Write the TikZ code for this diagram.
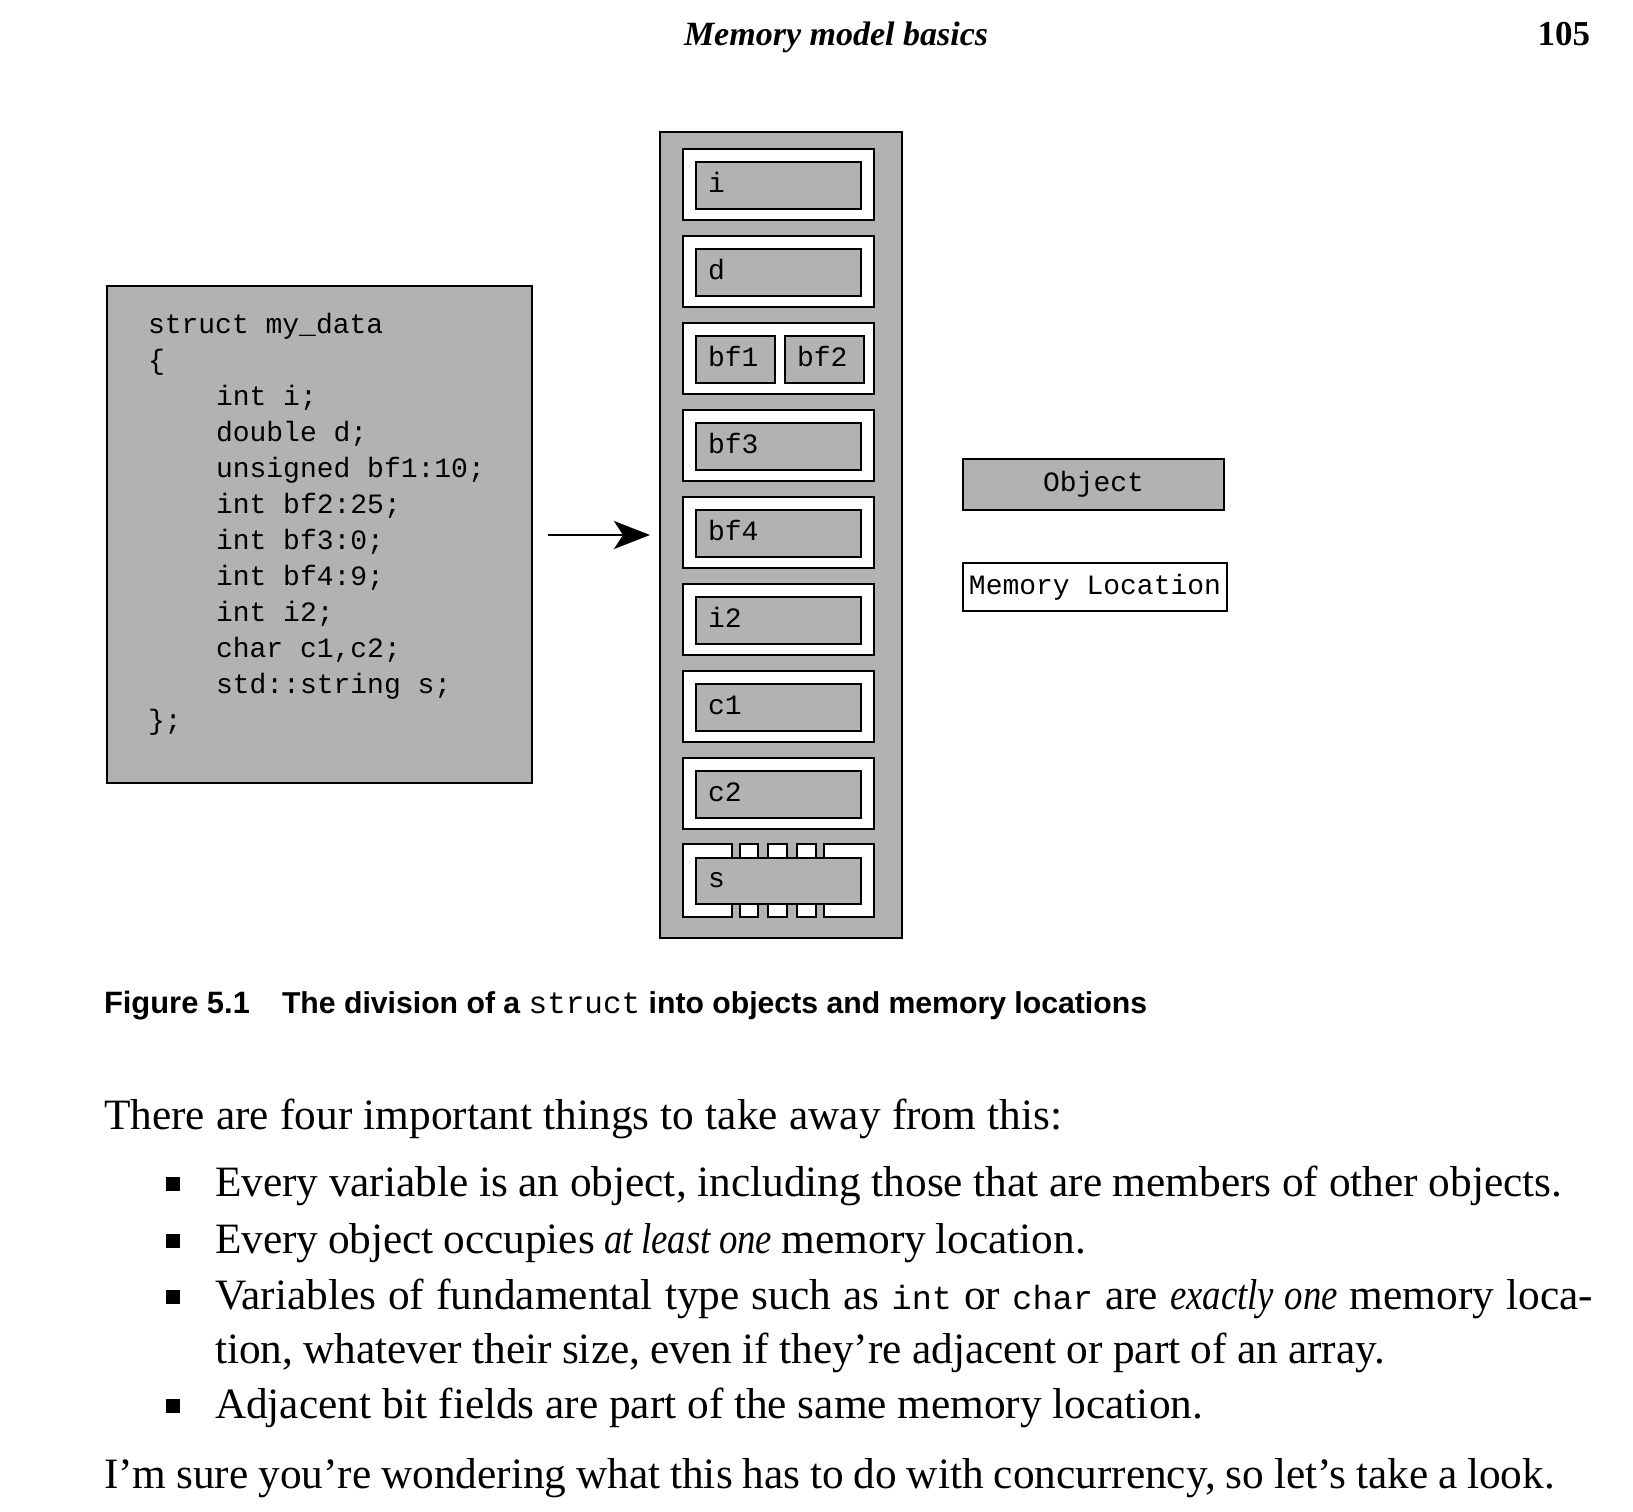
\documentclass[tikz,border=0pt]{standalone}
\usepackage{fontspec}
\setmainfont{Liberation Serif}[ItalicFeatures={FakeStretch=0.85}]
\setsansfont{Liberation Sans}
\setmonofont{Liberation Mono}
\usetikzlibrary{arrows.meta}
\definecolor{objgray}{gray}{0.7}
\newcommand{\monotxt}[1]{{\fontsize{33.5}{36}\selectfont\ttfamily\mdseries #1}}
\newcommand{\capmono}[1]{{\fontsize{31}{36}\selectfont\ttfamily\mdseries #1}}
\newcommand{\fitline}[2]{\hbox to #1pt{#2}}
\begin{document}
\begin{tikzpicture}[x=1pt,y=-1pt,
  every node/.style={inner sep=0pt, outer sep=0pt},
  codefont/.style={font=\fontsize{28}{36}\selectfont\ttfamily},
  column/.style={draw, line width=2.5pt, fill=objgray, anchor=north west, minimum width=242pt, minimum height=806pt},
  memloc/.style={draw, line width=2pt, fill=white, anchor=north west, minimum width=191pt, minimum height=71pt},
  piece/.style={draw, line width=2pt, fill=white},
  objbox/.style={draw, line width=1.5pt, fill=objgray, anchor=north west, minimum height=47pt,
     text width=141pt, inner xsep=12pt, align=left, text height=13pt, text depth=0pt, codefont},
  halfbox/.style={objbox, text width=55pt},
  codebox/.style={draw, line width=2pt, fill=objgray, anchor=north west, minimum width=425pt, minimum height=497pt},
  codeline/.style={codefont, anchor=base west},
  legendobj/.style={draw, line width=2pt, fill=objgray, anchor=north west, minimum width=261pt, minimum height=51pt, codefont},
  legendloc/.style={draw, line width=2pt, fill=white, anchor=north west, minimum width=264pt, minimum height=48pt, codefont},
  bodytext/.style={anchor=base west, font=\fontsize{43.3}{50}\selectfont},
  bulletsq/.style={fill=black, minimum width=14pt, minimum height=14pt, anchor=center},
  arrowline/.style={line width=2.5pt, -{Stealth[length=36pt, width=28pt, inset=9pt]}}
]
\useasboundingbox[fill=white] (0,0) rectangle (1633,1512);

% header
\node[anchor=base west, font=\fontsize{34}{40}\selectfont\bfseries\itshape] (hdr) at (684,46) {Memory model basics};
\node[anchor=base east, font=\fontsize{35}{40}\selectfont\bfseries] (pg) at (1590,46) {105};

% code box
\node[codebox] (code) at (107,286) {};
\node[codeline] (l1) at (148,333) {struct my\_data};
\node[codeline] (l2) at (148,369) {\{};
\node[codeline] (l3) at (216,405) {int i;};
\node[codeline] (l4) at (216,441) {double d;};
\node[codeline] (l5) at (216,477) {unsigned bf1:10;};
\node[codeline] (l6) at (216,513) {int bf2:25;};
\node[codeline] (l7) at (216,549) {int bf3:0;};
\node[codeline] (l8) at (216,585) {int bf4:9;};
\node[codeline] (l9) at (216,621) {int i2;};
\node[codeline] (l10) at (216,657) {char c1,c2;};
\node[codeline] (l11) at (216,693) {std::string s;};
\node[codeline] (l12) at (148,729) {\};};

% column of memory locations
\node[column] (col) at (660,132) {};
\node[memloc] (m1) at (683,149) {};
\node[memloc] (m2) at (683,236) {};
\node[memloc] (m3) at (683,323) {};
\node[memloc] (m4) at (683,410) {};
\node[memloc] (m5) at (683,497) {};
\node[memloc] (m6) at (683,584) {};
\node[memloc] (m7) at (683,671) {};
\node[memloc] (m8) at (683,758) {};

\node[objbox] (oi) at (696,162) {i};
\node[objbox] (od) at (696,249) {d};
\node[halfbox] (obf1) at (696,336) {bf1};
\node[halfbox] (obf2) at (785,336) {bf2};
\node[objbox] (obf3) at (696,423) {bf3};
\node[objbox] (obf4) at (696,510) {bf4};
\node[objbox] (oi2) at (696,597) {i2};
\node[objbox] (oc1) at (696,684) {c1};
\node[objbox] (oc2) at (696,771) {c2};

% broken memory location of s
\draw[piece] (683,844) rectangle (732,917);
\draw[piece] (824,844) rectangle (874,917);
\foreach \xa/\xb in {740/758, 768/787, 797/816} {
  \draw[piece] (\xa,844) rectangle (\xb,858);
  \draw[piece] (\xa,904) rectangle (\xb,917);
}
\node[objbox, minimum height=46pt] (os) at (696,858) {s};

% arrow
\coordinate (astart) at (548,535);
\draw[arrowline] (astart) -- ([xshift=-10pt]col.west);

% legend
\node[legendobj] (lobj) at (963,459) {Object};
\node[legendloc] (lloc) at (963,563) {Memory Location};

% caption
\node[anchor=base west, font=\fontsize{30.9}{36}\selectfont\sffamily\bfseries] (cap1) at (104,1013) {Figure 5.1};
\node[anchor=base west, font=\fontsize{30.2}{36}\selectfont\sffamily\bfseries] (cap2) at (282,1013) {The division of a \capmono{struct} into objects and memory locations};

% body text
\node[bodytext] (p1) at (104,1129) {\fitline{958}{There are four important things to take away from this:}};
\node[bulletsq] (b1) at (172.5,1184) {};
\node[bodytext] (t1) at (215,1196) {\fitline{1347}{Every variable is an object, including those that are members of other objects.}};
\node[bulletsq] (b2) at (172.5,1241) {};
\node[bodytext] (t2) at (215,1253) {\fitline{871}{Every object occupies \textit{at least one} memory location.}};
\node[bulletsq] (b3) at (172.5,1297) {};
\node[bodytext] (t3) at (215,1309) {\fitline{1378}{Variables of fundamental type such as \monotxt{int} or \monotxt{char} are \textit{exactly one} memory loca-}};
\node[bodytext] (t3b) at (215,1363) {\fitline{1170}{tion, whatever their size, even if they’re adjacent or part of an array.}};
\node[bulletsq] (b4) at (172.5,1406) {};
\node[bodytext] (t4) at (215,1418) {\fitline{988}{Adjacent bit fields are part of the same memory location.}};
\node[bodytext] (p2) at (104,1488) {\fitline{1451}{I’m sure you’re wondering what this has to do with concurrency, so let’s take a look.}};
\end{tikzpicture}
\end{document}
